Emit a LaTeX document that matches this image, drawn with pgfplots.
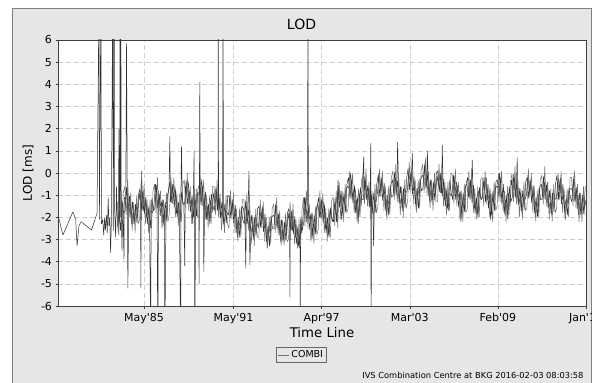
\documentclass[border=0pt]{standalone}
\usepackage{pgfplots}
\pgfplotsset{compat=1.18}
\usepackage{fontspec}
\setmainfont{DejaVu Sans}
\definecolor{panel}{RGB}{230,230,230}
\definecolor{frame}{RGB}{128,128,128}
\definecolor{gridc}{RGB}{205,205,205}
\definecolor{series}{RGB}{50,50,50}
\definecolor{seriesl}{RGB}{115,115,115}
\begin{document}
\begin{tikzpicture}[x=1bp,y=1bp]
\path[use as bounding box] (0,0) rectangle (592,382);
\fill[white] (0,0) rectangle (592,382);
\filldraw[fill=panel,draw=frame,line width=1bp] (12.5,-5) rectangle (591.5,373);
\node[font=\fontsize{14bp}{16bp}\selectfont] at (301.5,357.3) {LOD};
\node[anchor=east,font=\fontsize{8.3bp}{10bp}\selectfont] at (587,7) {IVS Combination Centre at BKG 2016-02-03 08:03:58};
\begin{axis}[
  at={(58bp,76bp)}, anchor=south west,
  width=528bp, height=266bp, scale only axis,
  xmin=1979.55, xmax=2015.0, ymin=-6, ymax=6,
  ytick={-6,-5,-4,-3,-2,-1,0,1,2,3,4,5,6},
  xtick={1985.33,1991.33,1997.25,2003.17,2009.08,2015.0},
  xticklabels={May\textquotesingle 85,May\textquotesingle 91,Apr\textquotesingle 97,Mar\textquotesingle 03,Feb\textquotesingle 09,Jan\textquotesingle 15},
  /pgf/number format/assume math mode=true,
  ticklabel style={font=\fontsize{11bp}{13bp}\selectfont},
  xticklabel style={yshift=-1bp},
  grid=major,
  major grid style={gridc, dash pattern=on 5bp off 3bp, line width=0.6bp},
  axis line style={black!75, line width=0.9bp},
  tick style={black!75, line width=0.6bp},
  major tick length=2.5bp, tick align=outside, tick pos=left,
  axis background/.style={fill=white},
  xlabel={Time Line}, ylabel={LOD [ms]},
  xlabel style={at={(axis description cs:0.5,-0.0996)}, anchor=center, font=\fontsize{13.3bp}{15bp}\selectfont},
  ylabel style={at={(axis description cs:-0.0568,0.5)}, anchor=center, font=\fontsize{12bp}{14bp}\selectfont},
  legend style={at={(axis description cs:0.461,-0.184)}, anchor=center, fill=panel, draw=black!60, line width=0.8bp,
    font=\fontsize{9.5bp}{11bp}\selectfont, inner sep=1.5bp},
  legend image code/.code={\draw[seriesl, line width=0.6bp] (0bp,0bp) -- (11bp,0bp);},
]
\addplot[series, line width=0.5bp, line join=bevel] coordinates {
(1979.57,-1.95) (1979.88,-2.8) (1980.55,-1.75) (1980.74,-2.1) (1980.83,-3.3) (1980.95,-2.4) (1981.1,-2.2) (1981.8,-2.57) (1982.17,-1.82)
(1982.30,8) (1982.33,-2.1) (1982.43,8) (1982.47,-2.3) (1982.55,-2.1) (1982.62,-2.8) (1982.68,-2.0) (1982.73,-2.6) (1982.80,-1.9) (1982.86,-2.7)
(1982.92,-1.1) (1982.97,-2.4) (1983.03,-2.0) (1983.08,-3.6) (1983.13,-2.3) (1983.22,8) (1983.26,-2.6) (1983.32,8) (1983.36,-1.8) (1983.42,-2.9) (1983.48,-0.6)
(1983.5,-1.6) (1983.6,-2.7) (1983.64,2.0) (1983.67,-2.2) (1983.7,-1.7) (1983.71,8) (1983.74,-2.0) (1983.77,8) (1983.8,-2.0) (1983.85,-3.5) (1983.9,-1.3) (1983.98,-3.9)
(1984.0,-1.1) (1984.1,-1.2) (1984.15,5.85) (1984.2,-0.5) (1984.24,-5.2) (1984.3,-1.6) (1984.4,-1.3) (1984.5,-2.3) (1984.6,-1.7) (1984.7,-2.2) (1984.8,-1.4) (1984.9,-2.0)
(1985.0,-0.9) (1985.1,-1.4) (1985.11,-5.2) (1985.16,0.1) (1985.2,-0.8) (1985.3,-1.7) (1985.4,-1.2) (1985.5,-2.0) (1985.6,-1.5) (1985.7,-2.4) (1985.78,-8) (1985.8,-1.7) (1985.9,-1.8)
(1986.0,-1.4) (1986.1,-0.5) (1986.2,-1.3) (1986.25,-8) (1986.3,-0.8) (1986.4,-1.5) (1986.5,-1.3) (1986.6,-2.4) (1986.7,-1.7) (1986.72,-8) (1986.8,-2.0) (1986.9,-1.0)
(1987.0,-0.7) (1987.06,1.65) (1987.1,-1.3) (1987.2,-0.6) (1987.3,-1.1) (1987.4,-0.6) (1987.5,-1.8) (1987.6,-1.5) (1987.7,-2.1) (1987.79,-8) (1987.8,-1.0) (1987.84,1.2) (1987.9,-1.3)
(1988.0,-1.4) (1988.06,-4.2) (1988.1,-0.6) (1988.2,-1.0) (1988.3,-0.4) (1988.4,-1.4) (1988.5,-1.2) (1988.6,-2.3) (1988.69,1.0) (1988.7,-1.3) (1988.73,-8) (1988.8,-1.6) (1988.9,-0.9)
(1989.0,-0.9) (1989.02,-5.0) (1989.07,4.1) (1989.1,-1.0) (1989.2,-0.3) (1989.3,-1.4) (1989.34,-4.45) (1989.4,-1.1) (1989.5,-2.1) (1989.6,-1.5) (1989.7,-2.0) (1989.8,-1.2) (1989.9,-1.8)
(1990.0,-0.9) (1990.1,-1.4) (1990.2,-0.8) (1990.3,-1.7) (1990.31,8) (1990.33,-1.6) (1990.4,-1.2) (1990.5,-2.0) (1990.6,-1.5) (1990.63,8) (1990.66,-1.8) (1990.7,-2.4) (1990.8,-1.7) (1990.9,-1.8)
(1991.0,-1.9) (1991.1,-1.0) (1991.2,-1.8) (1991.3,-1.3) (1991.4,-2.0) (1991.5,-1.8) (1991.6,-2.9) (1991.7,-2.2) (1991.8,-2.5) (1991.9,-1.5)
(1992.0,-1.6) (1992.1,-2.2) (1992.16,-4.3) (1992.2,-1.5) (1992.3,-2.0) (1992.37,0.1) (1992.4,-1.5) (1992.43,-4.15) (1992.5,-2.7) (1992.6,-2.4) (1992.7,-3.0) (1992.8,-1.9) (1992.9,-2.2)
(1993.0,-2.5) (1993.1,-1.7) (1993.2,-2.1) (1993.3,-1.5) (1993.4,-2.5) (1993.5,-2.3) (1993.6,-3.4) (1993.7,-2.4) (1993.8,-2.7) (1993.9,-2.0)
(1994.0,-1.9) (1994.1,-2.0) (1994.2,-1.3) (1994.3,-2.4) (1994.4,-2.1) (1994.5,-3.1) (1994.6,-2.5) (1994.7,-3.0) (1994.8,-2.2) (1994.9,-2.8)
(1995.0,-1.8) (1995.1,-2.3) (1995.12,-5.6) (1995.15,-2.2) (1995.2,-1.7) (1995.3,-2.6) (1995.4,-2.1) (1995.5,-2.9) (1995.6,-2.4) (1995.7,-3.3) (1995.8,-2.6) (1995.81,-8) (1995.84,-2.3) (1995.9,-2.7)
(1996.0,-2.0) (1996.1,-1.1) (1996.2,-1.9) (1996.3,-1.4) (1996.33,8) (1996.36,-1.6) (1996.4,-2.1) (1996.5,-1.9) (1996.6,-3.0) (1996.7,-2.3) (1996.8,-2.6) (1996.9,-1.6)
(1997.0,-1.4) (1997.1,-2.0) (1997.2,-1.3) (1997.3,-1.8) (1997.4,-1.3) (1997.5,-2.5) (1997.6,-2.2) (1997.7,-2.8) (1997.8,-1.7) (1997.9,-2.0)
(1998.0,-2.2) (1998.1,-1.4) (1998.2,-1.8) (1998.3,-2.2) (1998.35,-0.3) (1998.4,-1.2) (1998.5,-1.0) (1998.6,-2.1) (1998.7,-1.1) (1998.8,-1.4) (1998.9,-0.7)
(1999.0,-0.6) (1999.1,-0.7) (1999.2,0.0) (1999.3,-1.1) (1999.4,-0.8) (1999.5,-1.8) (1999.6,-1.2) (1999.7,-2.3) (1999.8,-0.9) (1999.9,-1.5)
(2000.0,-0.4) (2000.08,0.74) (2000.1,-0.9) (2000.2,-0.3) (2000.3,-1.2) (2000.4,-0.7) (2000.5,-1.5) (2000.55,1.35) (2000.57,-8) (2000.6,-1.0) (2000.7,-1.9) (2000.74,-3.3) (2000.8,-1.2) (2000.9,-1.3)
(2001.0,-0.9) (2001.1,0.0) (2001.2,-0.8) (2001.3,-0.3) (2001.4,-1.0) (2001.5,-0.8) (2001.6,-1.9) (2001.7,-1.2) (2001.8,-1.5) (2001.9,-0.5)
(2002.0,-0.3) (2002.1,-0.9) (2002.2,-0.2) (2002.3,-0.7) (2002.35,1.4) (2002.4,-0.2) (2002.5,-1.4) (2002.6,-1.1) (2002.7,-1.7) (2002.8,-0.6) (2002.9,-0.9)
(2003.0,-0.8) (2003.1,0.0) (2003.2,-0.4) (2003.3,0.2) (2003.34,0.9) (2003.4,-0.8) (2003.5,-0.6) (2003.6,-1.7) (2003.7,-0.7) (2003.8,-1.0) (2003.9,-0.3)
(2004.0,-0.1) (2004.1,-0.2) (2004.2,0.5) (2004.3,-0.6) (2004.35,1.0) (2004.4,-0.3) (2004.5,-1.3) (2004.6,-0.7) (2004.7,-1.2) (2004.8,-0.4) (2004.9,-1.0)
(2005.0,-0.1) (2005.1,-0.6) (2005.2,0.0) (2005.3,-0.9) (2005.35,1.26) (2005.4,-0.4) (2005.5,-1.2) (2005.6,-0.7) (2005.7,-1.6) (2005.8,-0.9) (2005.9,-1.0)
(2006.0,-1.0) (2006.1,-0.1) (2006.2,-0.9) (2006.3,-0.4) (2006.4,-1.1) (2006.5,-0.9) (2006.6,-2.2) (2006.7,-1.3) (2006.8,-1.6) (2006.9,-0.6)
(2007.0,-0.5) (2007.1,-1.1) (2007.2,-0.4) (2007.3,-0.9) (2007.36,0.6) (2007.4,-0.4) (2007.5,-1.6) (2007.6,-1.3) (2007.7,-1.9) (2007.8,-0.8) (2007.9,-1.1)
(2008.0,-1.2) (2008.1,-0.4) (2008.2,-0.8) (2008.3,-0.2) (2008.4,-1.2) (2008.5,-1.0) (2008.6,-2.1) (2008.7,-1.1) (2008.8,-1.4) (2008.9,-0.7)
(2009.0,-0.6) (2009.1,-0.7) (2009.2,0.0) (2009.3,-1.1) (2009.4,-0.8) (2009.5,-1.8) (2009.6,-1.2) (2009.7,-1.7) (2009.8,-0.9) (2009.9,-1.5)
(2010.0,-0.3) (2010.1,-0.8) (2010.2,-0.2) (2010.3,-1.1) (2010.38,0.7) (2010.4,-0.6) (2010.5,-1.4) (2010.6,-0.9) (2010.7,-1.8) (2010.8,-1.1) (2010.9,-1.2)
(2011.0,-1.0) (2011.1,-0.1) (2011.2,-0.9) (2011.3,-0.4) (2011.4,-1.1) (2011.5,-0.9) (2011.6,-2.0) (2011.7,-1.3) (2011.8,-1.6) (2011.9,-0.6)
(2012.0,-0.5) (2012.1,-1.1) (2012.2,-0.4) (2012.3,-0.9) (2012.4,-0.4) (2012.5,-1.6) (2012.6,-1.3) (2012.7,-1.9) (2012.8,-0.8) (2012.9,-1.1)
(2013.0,-1.2) (2013.1,-0.4) (2013.2,-0.8) (2013.3,-0.2) (2013.4,-1.2) (2013.5,-1.0) (2013.6,-2.1) (2013.7,-1.1) (2013.8,-1.4) (2013.9,-0.7)
(2014.0,-0.7) (2014.1,-0.8) (2014.2,-0.1) (2014.3,-1.2) (2014.4,-0.9) (2014.5,-1.9) (2014.6,-1.3) (2014.7,-1.8) (2014.8,-1.0) (2014.9,-1.6) (2015.0,-1.2)
};
\addlegendentry{COMBI}
\addplot[seriesl, line width=0.5bp, line join=bevel, forget plot] coordinates {
(1983.53,-1.3) (1983.63,-2.8) (1983.73,-1.3) (1983.83,-2.6) (1983.93,-0.9)
(1984.03,-0.6) (1984.13,-1.9) (1984.23,-0.3) (1984.33,-2.0) (1984.43,-0.9) (1984.53,-2.6) (1984.63,-1.3) (1984.73,-2.7) (1984.83,-1.0) (1984.93,-2.3)
(1985.03,-2.1) (1985.13,-0.4) (1985.23,-1.7) (1985.33,-0.5) (1985.43,-2.3) (1985.53,-1.2) (1985.63,-2.7) (1985.73,-1.2) (1985.83,-2.5) (1985.93,-0.8)
(1986.03,-0.5) (1986.13,-1.8) (1986.23,-0.2) (1986.33,-1.9) (1986.43,-0.8) (1986.53,-2.5) (1986.63,-1.2) (1986.73,-2.6) (1986.83,-0.9) (1986.93,-2.2)
(1987.03,-1.8) (1987.13,-0.1) (1987.23,-1.4) (1987.33,-0.2) (1987.43,-2.0) (1987.53,-0.9) (1987.63,-2.4) (1987.73,-0.9) (1987.83,-2.2) (1987.93,-0.5)
(1988.03,-0.3) (1988.13,-1.6) (1988.23,0.0) (1988.33,-1.7) (1988.43,-0.6) (1988.53,-2.3) (1988.63,-1.0) (1988.73,-2.4) (1988.83,-0.7) (1988.93,-2.0)
(1989.03,-1.9) (1989.13,-0.2) (1989.23,-1.5) (1989.33,-0.3) (1989.43,-2.1) (1989.53,-1.0) (1989.63,-2.5) (1989.73,-1.0) (1989.83,-2.3) (1989.93,-0.6)
(1990.03,-0.6) (1990.13,-1.9) (1990.23,-0.3) (1990.33,-2.0) (1990.43,-0.9) (1990.53,-2.6) (1990.63,-1.3) (1990.73,-2.7) (1990.83,-1.0) (1990.93,-2.3)
(1991.03,-2.5) (1991.13,-0.8) (1991.23,-2.1) (1991.33,-0.9) (1991.43,-2.7) (1991.53,-1.6) (1991.63,-3.1) (1991.73,-1.6) (1991.83,-2.9) (1991.93,-1.2)
(1992.03,-1.2) (1992.13,-2.5) (1992.23,-0.9) (1992.33,-2.6) (1992.43,-1.5) (1992.53,-3.2) (1992.63,-1.9) (1992.73,-3.3) (1992.83,-1.6) (1992.93,-2.9)
(1993.03,-2.9) (1993.13,-1.2) (1993.23,-2.5) (1993.33,-1.3) (1993.43,-3.1) (1993.53,-2.0) (1993.63,-3.3) (1993.73,-2.0) (1993.83,-3.2) (1993.93,-1.6)
(1994.03,-1.4) (1994.13,-2.7) (1994.23,-1.1) (1994.33,-2.8) (1994.43,-1.7) (1994.53,-3.3) (1994.63,-2.1) (1994.73,-3.3) (1994.83,-1.8) (1994.93,-3.1)
(1995.03,-3.0) (1995.13,-1.3) (1995.23,-2.6) (1995.33,-1.4) (1995.43,-3.2) (1995.53,-2.1) (1995.63,-3.4) (1995.73,-2.1) (1995.83,-3.3) (1995.93,-1.7)
(1996.03,-1.1) (1996.13,-2.4) (1996.23,-0.8) (1996.33,-2.5) (1996.43,-1.4) (1996.53,-3.1) (1996.63,-1.8) (1996.73,-3.2) (1996.83,-1.5) (1996.93,-2.8)
(1997.03,-2.5) (1997.13,-0.8) (1997.23,-2.1) (1997.33,-0.9) (1997.43,-2.7) (1997.53,-1.6) (1997.63,-3.1) (1997.73,-1.6) (1997.83,-2.9) (1997.93,-1.2)
(1998.03,-1.1) (1998.13,-2.4) (1998.23,-0.8) (1998.33,-2.5) (1998.43,-0.4) (1998.53,-2.1) (1998.63,-0.8) (1998.73,-2.2) (1998.83,-0.5) (1998.93,-1.8)
(1999.03,-1.6) (1999.13,0.1) (1999.23,-1.2) (1999.33,0.0) (1999.43,-1.8) (1999.53,-0.7) (1999.63,-2.2) (1999.73,-0.7) (1999.83,-2.0) (1999.93,-0.3)
(2000.03,-0.1) (2000.13,-1.4) (2000.23,0.2) (2000.33,-1.5) (2000.43,-0.4) (2000.53,-2.1) (2000.63,-0.8) (2000.73,-2.2) (2000.83,-0.5) (2000.93,-1.8)
(2001.03,-1.5) (2001.13,0.2) (2001.23,-1.1) (2001.33,0.1) (2001.43,-1.7) (2001.53,-0.6) (2001.63,-2.1) (2001.73,-0.6) (2001.83,-1.9) (2001.93,-0.2)
(2002.03,0.1) (2002.13,-1.2) (2002.23,0.4) (2002.33,-1.3) (2002.43,-0.2) (2002.53,-1.9) (2002.63,-0.6) (2002.73,-2.0) (2002.83,-0.3) (2002.93,-1.6)
(2003.03,-1.2) (2003.13,0.5) (2003.23,-0.8) (2003.33,0.4) (2003.43,-1.4) (2003.53,-0.3) (2003.63,-1.8) (2003.73,-0.3) (2003.83,-1.6) (2003.93,0.1)
(2004.03,0.4) (2004.13,-0.9) (2004.23,0.7) (2004.33,-1.0) (2004.43,0.1) (2004.53,-1.6) (2004.63,-0.3) (2004.73,-1.7) (2004.83,0.0) (2004.93,-1.3)
(2005.03,-1.3) (2005.13,0.4) (2005.23,-0.9) (2005.33,0.3) (2005.43,-1.5) (2005.53,-0.4) (2005.63,-1.9) (2005.73,-0.4) (2005.83,-1.7) (2005.93,0.0)
(2006.03,-0.1) (2006.13,-1.4) (2006.23,0.2) (2006.33,-1.5) (2006.43,-0.4) (2006.53,-2.1) (2006.63,-0.8) (2006.73,-2.2) (2006.83,-0.5) (2006.93,-1.8)
(2007.03,-1.6) (2007.13,0.1) (2007.23,-1.2) (2007.33,0.2) (2007.43,-1.8) (2007.53,-0.7) (2007.63,-2.1) (2007.73,-0.6) (2007.83,-2.0) (2007.93,-0.3)
(2008.03,-0.2) (2008.13,-1.5) (2008.23,0.1) (2008.33,-1.4) (2008.43,-0.5) (2008.53,-2.0) (2008.63,-0.9) (2008.73,-2.2) (2008.83,-0.4) (2008.93,-1.7)
(2009.03,-1.5) (2009.13,0.0) (2009.23,-1.3) (2009.33,0.1) (2009.43,-1.7) (2009.53,-0.8) (2009.63,-2.2) (2009.73,-0.6) (2009.83,-1.9) (2009.93,-0.4)
(2010.03,0.0) (2010.13,-1.3) (2010.23,0.3) (2010.33,-1.4) (2010.43,-0.3) (2010.53,-2.0) (2010.63,-0.7) (2010.73,-2.1) (2010.83,-0.4) (2010.93,-1.7)
(2011.03,-1.6) (2011.13,0.2) (2011.23,-1.1) (2011.33,0.0) (2011.43,-1.8) (2011.53,-0.6) (2011.63,-2.2) (2011.73,-0.8) (2011.83,-2.0) (2011.93,-0.3)
(2012.03,-0.1) (2012.13,-1.4) (2012.23,0.3) (2012.33,-1.5) (2012.43,-0.4) (2012.53,-2.1) (2012.63,-0.7) (2012.73,-2.2) (2012.83,-0.5) (2012.93,-1.8)
(2013.03,-1.6) (2013.13,0.0) (2013.23,-1.2) (2013.33,0.1) (2013.43,-1.8) (2013.53,-0.7) (2013.63,-2.1) (2013.73,-0.7) (2013.83,-2.0) (2013.93,-0.2)
(2014.03,-0.2) (2014.13,-1.5) (2014.23,0.1) (2014.33,-1.6) (2014.43,-0.5) (2014.53,-2.2) (2014.63,-0.9) (2014.73,-2.2) (2014.83,-0.6) (2014.93,-1.9)
};
\addplot[series, line width=0.5bp, line join=bevel, forget plot] coordinates {
(1983.55,-2.4) (1983.65,-1.7) (1983.75,-2.6) (1983.85,-1.25) (1983.95,-1.8)
(1984.05,-1.7) (1984.15,-0.65) (1984.25,-1.7) (1984.35,-1.05) (1984.45,-2.05) (1984.55,-1.3) (1984.65,-2.3) (1984.75,-1.4) (1984.85,-2.25) (1984.95,-1.0)
(1985.05,-0.7) (1985.15,-1.65) (1985.25,-0.8) (1985.35,-1.85) (1985.45,-1.05) (1985.55,-2.3) (1985.65,-1.6) (1985.75,-2.5) (1985.85,-1.15) (1985.95,-1.7)
(1986.05,-1.6) (1986.15,-0.55) (1986.25,-1.6) (1986.35,-0.95) (1986.45,-1.95) (1986.55,-1.2) (1986.65,-2.2) (1986.75,-1.3) (1986.85,-2.15) (1986.95,-0.9)
(1987.05,-0.4) (1987.15,-1.35) (1987.25,-0.5) (1987.35,-1.55) (1987.45,-0.75) (1987.55,-2.0) (1987.65,-1.3) (1987.75,-2.2) (1987.85,-0.85) (1987.95,-1.4)
(1988.05,-1.4) (1988.15,-0.35) (1988.25,-1.4) (1988.35,-0.75) (1988.45,-1.75) (1988.55,-1.0) (1988.65,-2.0) (1988.75,-1.1) (1988.85,-1.95) (1988.95,-0.7)
(1989.05,-0.5) (1989.15,-1.45) (1989.25,-0.6) (1989.35,-1.65) (1989.45,-0.85) (1989.55,-2.1) (1989.65,-1.4) (1989.75,-2.3) (1989.85,-0.95) (1989.95,-1.5)
(1990.05,-1.7) (1990.15,-0.65) (1990.25,-1.7) (1990.35,-1.05) (1990.45,-2.05) (1990.55,-1.3) (1990.65,-2.3) (1990.75,-1.4) (1990.85,-2.25) (1990.95,-1.0)
(1991.05,-1.1) (1991.15,-2.05) (1991.25,-1.2) (1991.35,-2.25) (1991.45,-1.45) (1991.55,-2.7) (1991.65,-2.0) (1991.75,-2.9) (1991.85,-1.55) (1991.95,-2.1)
(1992.05,-2.3) (1992.15,-1.25) (1992.25,-2.3) (1992.35,-1.65) (1992.45,-2.65) (1992.55,-1.9) (1992.65,-2.9) (1992.75,-2.0) (1992.85,-2.85) (1992.95,-1.6)
(1993.05,-1.5) (1993.15,-2.45) (1993.25,-1.6) (1993.35,-2.65) (1993.45,-1.85) (1993.55,-3.1) (1993.65,-2.4) (1993.75,-3.3) (1993.85,-1.95) (1993.95,-2.5)
(1994.05,-2.5) (1994.15,-1.45) (1994.25,-2.5) (1994.35,-1.85) (1994.45,-2.85) (1994.55,-2.1) (1994.65,-3.1) (1994.75,-2.2) (1994.85,-3.05) (1994.95,-1.8)
(1995.05,-1.6) (1995.15,-2.55) (1995.25,-1.7) (1995.35,-2.75) (1995.45,-1.95) (1995.55,-3.2) (1995.65,-2.5) (1995.75,-3.4) (1995.85,-2.05) (1995.95,-2.6)
(1996.05,-2.2) (1996.15,-1.15) (1996.25,-2.2) (1996.35,-1.55) (1996.45,-2.55) (1996.55,-1.8) (1996.65,-2.8) (1996.75,-1.9) (1996.85,-2.75) (1996.95,-1.5)
(1997.05,-1.1) (1997.15,-2.05) (1997.25,-1.2) (1997.35,-2.25) (1997.45,-1.45) (1997.55,-2.7) (1997.65,-2.0) (1997.75,-2.9) (1997.85,-1.55) (1997.95,-2.1)
(1998.05,-2.2) (1998.15,-1.15) (1998.25,-2.2) (1998.35,-0.55) (1998.45,-1.55) (1998.55,-0.8) (1998.65,-1.8) (1998.75,-0.9) (1998.85,-1.75) (1998.95,-0.5)
(1999.05,-0.2) (1999.15,-1.15) (1999.25,-0.3) (1999.35,-1.35) (1999.45,-0.55) (1999.55,-1.8) (1999.65,-1.1) (1999.75,-2.0) (1999.85,-0.65) (1999.95,-1.2)
(2000.05,-1.2) (2000.15,-0.15) (2000.25,-1.2) (2000.35,-0.55) (2000.45,-1.55) (2000.55,-0.8) (2000.65,-1.8) (2000.75,-0.9) (2000.85,-1.75) (2000.95,-0.5)
(2001.05,-0.1) (2001.15,-1.05) (2001.25,-0.2) (2001.35,-1.25) (2001.45,-0.45) (2001.55,-1.7) (2001.65,-1.0) (2001.75,-1.9) (2001.85,-0.55) (2001.95,-1.1)
(2002.05,-1.0) (2002.15,0.05) (2002.25,-1.0) (2002.35,-0.35) (2002.45,-1.35) (2002.55,-0.6) (2002.65,-1.6) (2002.75,-0.7) (2002.85,-1.55) (2002.95,-0.3)
(2003.05,0.2) (2003.15,-0.75) (2003.25,0.1) (2003.35,-0.95) (2003.45,-0.15) (2003.55,-1.4) (2003.65,-0.7) (2003.75,-1.6) (2003.85,-0.25) (2003.95,-0.8)
(2004.05,-0.7) (2004.15,0.35) (2004.25,-0.7) (2004.35,-0.05) (2004.45,-1.05) (2004.55,-0.3) (2004.65,-1.3) (2004.75,-0.4) (2004.85,-1.25) (2004.95,0.0)
(2005.05,0.1) (2005.15,-0.85) (2005.25,0.0) (2005.35,-1.05) (2005.45,-0.25) (2005.55,-1.5) (2005.65,-0.8) (2005.75,-1.7) (2005.85,-0.35) (2005.95,-0.9)
(2006.05,-1.2) (2006.15,-0.15) (2006.25,-1.2) (2006.35,-0.55) (2006.45,-1.55) (2006.55,-0.8) (2006.65,-1.8) (2006.75,-0.9) (2006.85,-1.75) (2006.95,-0.5)
(2007.05,-0.2) (2007.15,-1.15) (2007.25,-0.3) (2007.35,-1.35) (2007.45,-0.55) (2007.55,-1.8) (2007.65,-1.1) (2007.75,-2.0) (2007.85,-0.65) (2007.95,-1.2)
(2008.05,-1.1) (2008.15,-0.2) (2008.25,-1.3) (2008.35,-0.5) (2008.45,-1.6) (2008.55,-0.7) (2008.65,-1.9) (2008.75,-0.8) (2008.85,-1.7) (2008.95,-0.4)
(2009.05,-0.3) (2009.15,-1.1) (2009.25,-0.2) (2009.35,-1.4) (2009.45,-0.5) (2009.55,-1.9) (2009.65,-1.0) (2009.75,-2.1) (2009.85,-0.6) (2009.95,-1.3)
(2010.05,-1.1) (2010.15,-0.05) (2010.25,-1.1) (2010.35,-0.45) (2010.45,-1.45) (2010.55,-0.7) (2010.65,-1.7) (2010.75,-0.8) (2010.85,-1.65) (2010.95,-0.4)
(2011.05,-0.2) (2011.15,-1.15) (2011.25,-0.3) (2011.35,-1.35) (2011.45,-0.55) (2011.55,-1.8) (2011.65,-1.1) (2011.75,-2.0) (2011.85,-0.65) (2011.95,-1.2)
(2012.05,-1.2) (2012.15,-0.15) (2012.25,-1.2) (2012.35,-0.55) (2012.45,-1.55) (2012.55,-0.8) (2012.65,-1.8) (2012.75,-0.9) (2012.85,-1.75) (2012.95,-0.5)
(2013.05,-0.1) (2013.15,-1.2) (2013.25,-0.3) (2013.35,-1.4) (2013.45,-0.5) (2013.55,-1.7) (2013.65,-1.2) (2013.75,-1.9) (2013.85,-0.7) (2013.95,-1.1)
(2014.05,-1.3) (2014.15,-0.25) (2014.25,-1.3) (2014.35,-0.65) (2014.45,-1.65) (2014.55,-0.9) (2014.65,-1.9) (2014.75,-1.0) (2014.85,-1.85) (2014.95,-0.6)
};
\end{axis}
\end{tikzpicture}
\end{document}
